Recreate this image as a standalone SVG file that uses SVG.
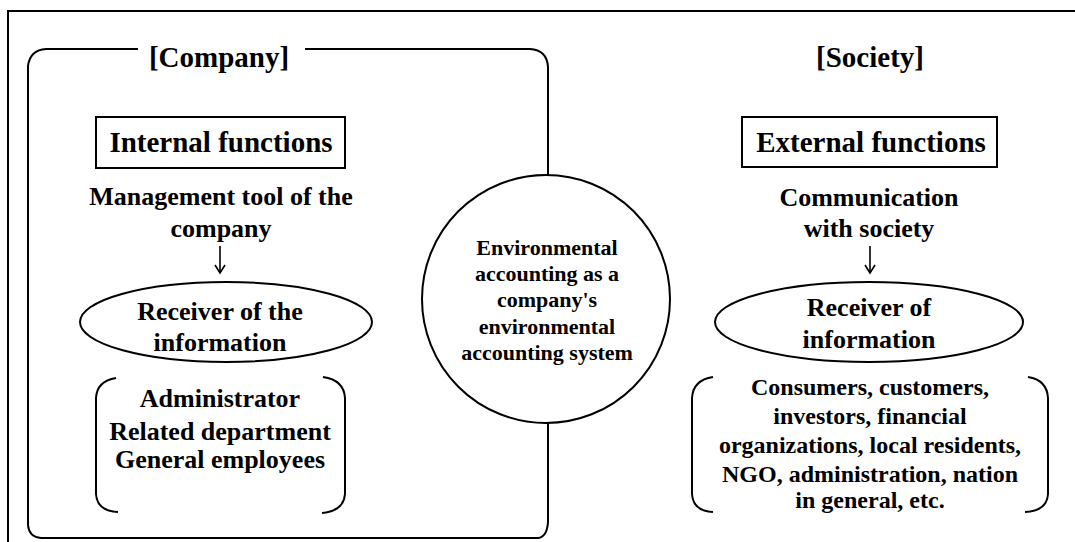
<svg xmlns="http://www.w3.org/2000/svg" width="1075" height="542" viewBox="0 0 1075 542">
<style>
.t{font-family:"Liberation Serif","Times New Roman",serif;font-weight:bold;fill:#000;text-anchor:middle}
.s{fill:none;stroke:#000;stroke-width:2}
.w{fill:#fff;stroke:#000;stroke-width:2}
</style>
<defs>
<marker id="ah" markerWidth="12" markerHeight="12" refX="10" refY="6" orient="auto" markerUnits="userSpaceOnUse">
<path d="M2,1 L10,6 L2,11" fill="none" stroke="#000" stroke-width="1.6"/>
</marker>
</defs>
<rect width="1075" height="542" fill="#fff"/>
<g id="frame"><path class="s" d="M1075,11 H8 V542"/></g>
<g id="company">
<path class="s" d="M138,49 H46 Q30,50 28,66 V525 Q29,537 41,538 H538 Q547,537 548,522 V67 Q547,50 530,49 H305"/>
<text class="t" x="219" y="67" font-size="29">[Company]</text>
</g>
<g id="society"><text class="t" x="870" y="67" font-size="29">[Society]</text></g>
<g id="internal">
<rect class="s" x="96" y="117" width="249" height="51"/>
<text class="t" x="221" y="152" font-size="29">Internal functions</text>
</g>
<g id="mgmt">
<text class="t" x="221" y="205" font-size="26">Management tool of the</text>
<text class="t" x="221" y="237" font-size="26">company</text>
</g>
<g id="receiver-left">
<ellipse class="w" cx="226" cy="322" rx="146" ry="40"/>
<text class="t" x="220" y="320" font-size="26">Receiver of the</text>
<text class="t" x="220" y="351" font-size="26">information</text>
</g>
<g id="internal-list">
<path class="s" d="M116,378 Q97,381 96,398 V494 Q97,511 118,512"/>
<path class="s" d="M323,377 Q344,380 345,398 V494 Q344,511 322,513"/>
<text class="t" x="220" y="407" font-size="26">Administrator</text>
<text class="t" x="220" y="440" font-size="26">Related department</text>
<text class="t" x="220" y="468" font-size="26">General employees</text>
</g>
<g id="center">
<circle class="w" cx="546" cy="299" r="124"/>
<text class="t" x="547" y="255" font-size="22">Environmental</text>
<text class="t" x="547" y="281" font-size="22">accounting as a</text>
<text class="t" x="547" y="307" font-size="22">company's</text>
<text class="t" x="547" y="334" font-size="22">environmental</text>
<text class="t" x="547" y="360" font-size="22">accounting system</text>
</g>
<g id="external">
<rect class="s" x="742" y="117" width="255" height="50"/>
<text class="t" x="871" y="152" font-size="29">External functions</text>
</g>
<g id="comm">
<text class="t" x="869" y="206" font-size="26">Communication</text>
<text class="t" x="869" y="237" font-size="26">with society</text>
</g>
<g id="receiver-right">
<ellipse class="w" cx="869" cy="322" rx="154" ry="40"/>
<text class="t" x="869" y="316" font-size="26">Receiver of</text>
<text class="t" x="869" y="348" font-size="26">information</text>
</g>
<g id="external-list">
<path class="s" d="M713,377 Q693,380 692,398 V494 Q693,511 713,512"/>
<path class="s" d="M1028,377 Q1047,380 1048,398 V494 Q1047,511 1025,512"/>
<text class="t" x="870" y="395" font-size="24">Consumers, customers,</text>
<text class="t" x="870" y="424" font-size="24">investors, financial</text>
<text class="t" x="870" y="453" font-size="24">organizations, local residents,</text>
<text class="t" x="870" y="482" font-size="24">NGO, administration, nation</text>
<text class="t" x="870" y="508" font-size="24">in general, etc.</text>
</g>
<g id="connectors">
<line x1="220" y1="246" x2="220" y2="273" stroke="#000" stroke-width="1.6" marker-end="url(#ah)"/>
<line x1="870" y1="246" x2="870" y2="273" stroke="#000" stroke-width="1.6" marker-end="url(#ah)"/>
</g>
</svg>
